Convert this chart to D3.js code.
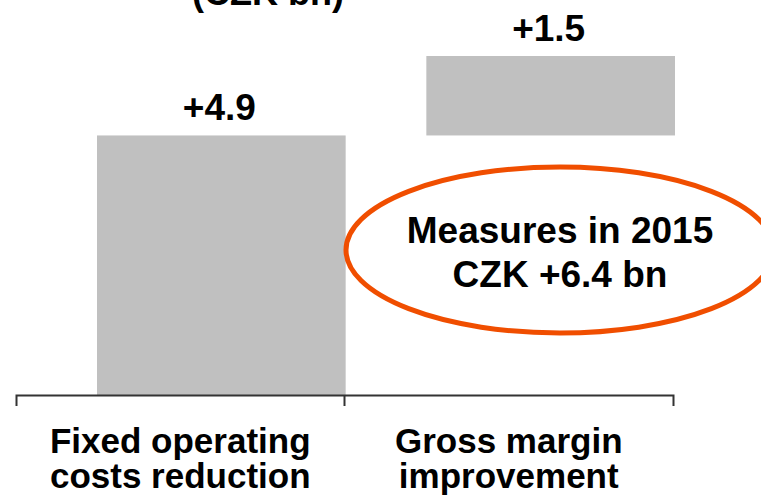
<!DOCTYPE html>
<meta charset="utf-8">
<html>
<script src="https://d3js.org/d3.v7.min.js"></script>

<style>
    body {
        margin: 0;
        background-color: #fff;
        font-family: "Liberation Sans", Arial, helvetica, sans-serif;
    }
</style>

<body>
<svg id="chart"></svg>

<script>
    // ---------------- data ----------------
    const categories = ["Fixed operating costs reduction", "Gross margin improvement"];
    const catLines = [["Fixed operating", "costs reduction"], ["Gross margin", "improvement"]];
    const values = [4.9, 1.5];
    const valueLabels = ["+4.9", "+1.5"];
    const unitTitle = "(CZK bn)";
    const noteLines = ["Measures in 2015", "CZK +6.4 bn"];

    //dimensions
    let width = 761, height = 497;

    let svg = d3.select("#chart")
        .attr("width", width)
        .attr("height", height)
        .attr("viewBox", "0 0 " + width + " " + height);

    // waterfall: each bar starts where the last ended
    let starts = [];
    let run = 0;
    values.forEach(v => { starts.push(run); run += v; });

    // scales
    let xAxisScale = d3.scaleBand()
        .domain(categories)
        .range([16, 673])
        .padding(0);

    // bars sit a bit right of the axis bands
    let xBar = d3.scaleBand()
        .domain(categories)
        .range([97, 675])
        .paddingInner(0.245)
        .paddingOuter(0);

    let y = d3.scaleLinear()
        .domain([0, d3.sum(values)])
        .range([395, 56]);

    // unit title (cut off at the top)
    svg.append("text")
        .attr("x", 268)
        .attr("y", 5)
        .attr("text-anchor", "middle")
        .attr("font-size", 36)
        .attr("font-weight", "bold")
        .text(unitTitle);

    // bars
    svg.append("g")
        .selectAll("rect")
        .data(categories)
        .enter()
        .append("rect")
            .attr("x", d => xBar(d))
            .attr("width", xBar.bandwidth())
            .attr("y", (d, i) => y(starts[i] + values[i]))
            .attr("height", (d, i) => y(starts[i]) - y(starts[i] + values[i]))
            .attr("fill", "#c0c0c0");

    // value labels
    svg.append("g")
        .selectAll("text")
        .data(categories)
        .enter()
        .append("text")
            .attr("x", d => xBar(d) + xBar.bandwidth() / 2 - 2)
            .attr("y", (d, i) => y(starts[i] + values[i]) - 15)
            .attr("text-anchor", "middle")
            .attr("font-size", 37)
            .attr("font-weight", "bold")
            .attr("fill", "#000")
            .text((d, i) => valueLabels[i]);

    // axis with ticks at band edges
    let axis = d3.axisBottom(xAxisScale)
        .tickValues([])
        .tickSizeOuter(11);

    let gAxis = svg.append("g")
        .attr("transform", "translate(0,395)")
        .call(axis);
    gAxis.select(".domain")
        .attr("stroke", "#333")
        .attr("stroke-width", 2);

    // middle divider tick
    gAxis.selectAll(".midtick")
        .data(categories.slice(1))
        .enter()
        .append("line")
            .attr("class", "midtick")
            .attr("x1", d => xAxisScale(d))
            .attr("x2", d => xAxisScale(d))
            .attr("y1", 0)
            .attr("y2", 11)
            .attr("stroke", "#333")
            .attr("stroke-width", 2);

    // category labels
    let catG = svg.append("g");
    categories.forEach((c, i) => {
        let t = catG.append("text")
            .attr("x", xAxisScale(c) + xAxisScale.bandwidth() / 2)
            .attr("y", 453)
            .attr("text-anchor", "middle")
            .attr("font-size", 35)
            .attr("font-weight", "bold");
        catLines[i].forEach((line, j) => {
            t.append("tspan")
                .attr("x", xAxisScale(c) + xAxisScale.bandwidth() / 2)
                .attr("dy", j === 0 ? 0 : 35)
                .text(line);
        });
    });

    // orange ellipse callout
    svg.append("ellipse")
        .attr("cx", 560)
        .attr("cy", 250)
        .attr("rx", 214)
        .attr("ry", 83)
        .attr("fill", "none")
        .attr("stroke", "#f04e00")
        .attr("stroke-width", 5);

    let note = svg.append("text")
        .attr("x", 560)
        .attr("y", 243)
        .attr("text-anchor", "middle")
        .attr("font-size", 37)
        .attr("font-weight", "bold");
    noteLines.forEach((line, j) => {
        note.append("tspan")
            .attr("x", 560)
            .attr("dy", j === 0 ? 0 : 44)
            .text(line);
    });
</script>
</body>
</html>
